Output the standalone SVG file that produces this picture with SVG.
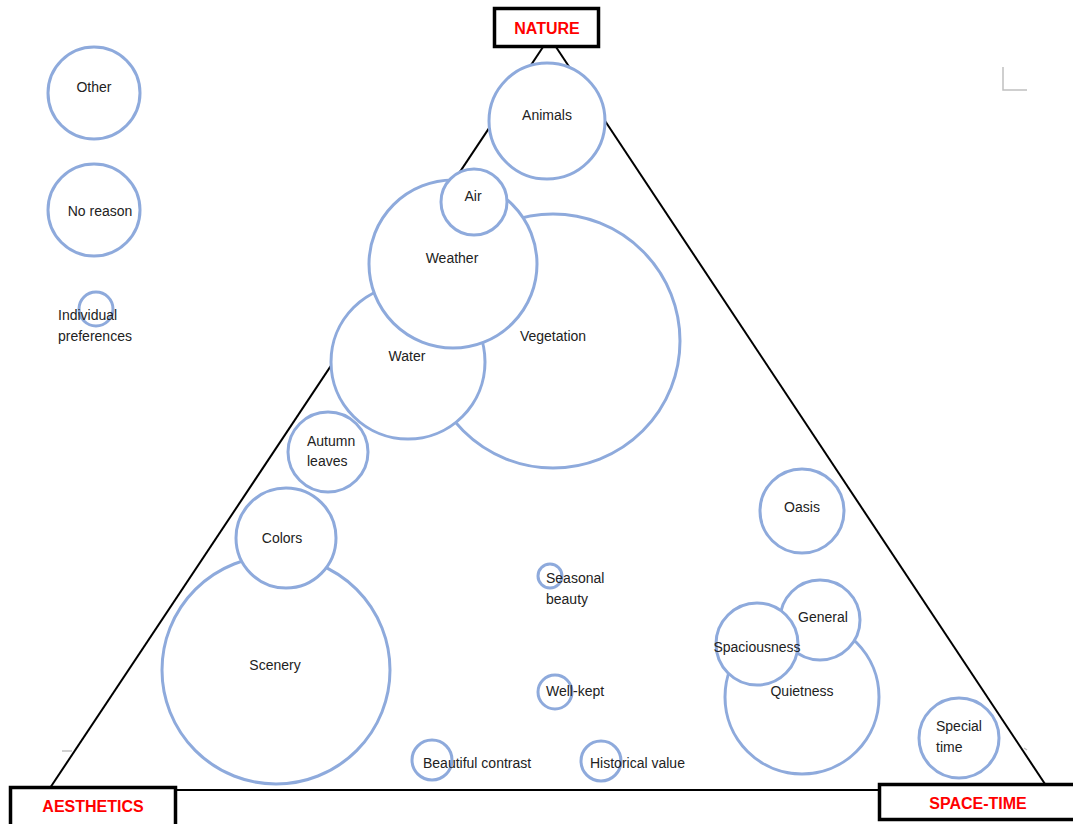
<svg xmlns="http://www.w3.org/2000/svg" width="1073" height="824" viewBox="0 0 1073 824">
<style>
.c{fill:#fff;stroke:#8eaadc;stroke-width:3}
.t{font-family:"Liberation Sans",Arial,sans-serif;font-size:14px;fill:#222}
.m{text-anchor:middle}
.box{fill:#fff;stroke:#000;stroke-width:3.5}
.bt{font-family:"Liberation Sans",Arial,sans-serif;font-size:16px;font-weight:bold;fill:#ff0000;text-anchor:middle}
.edge{stroke:#000;stroke-width:2;fill:none}
.g{stroke:#c0c0c0;stroke-width:1.5;fill:none}
</style>
<rect width="1073" height="824" fill="#fff"/>
<g id="connectors">
<line class="edge" x1="543" y1="47" x2="50" y2="788"/>
<line class="edge" x1="556" y1="47" x2="1045" y2="784"/>
<line class="edge" x1="176" y1="790" x2="879" y2="790"/>
<path class="g" d="M1003 67 V90 H1027"/>
<line class="g" x1="62" y1="751" x2="72" y2="751"/>
<line class="g" x1="1024" y1="748" x2="1027" y2="750"/>
</g>
<g id="other"><circle class="c" cx="94" cy="93" r="46"/><text class="t m" x="94" y="92">Other</text></g>
<g id="noreason"><circle class="c" cx="94" cy="210" r="46"/><text class="t m" x="100" y="216">No reason</text></g>
<g id="individual"><circle class="c" cx="96" cy="309" r="17"/><text class="t" x="58" y="320">Individual</text><text class="t" x="58" y="341">preferences</text></g>
<g id="animals"><circle class="c" cx="547" cy="121" r="58"/><text class="t m" x="547" y="120">Animals</text></g>
<g id="vegetation"><circle class="c" cx="553" cy="341" r="127"/><text class="t m" x="553" y="341">Vegetation</text></g>
<g id="water"><circle class="c" cx="408" cy="362" r="77"/><text class="t m" x="407" y="361">Water</text></g>
<g id="weather"><circle class="c" cx="453" cy="264" r="84"/><text class="t m" x="452" y="263">Weather</text></g>
<g id="air"><circle class="c" cx="474" cy="202" r="33"/><text class="t m" x="473" y="201">Air</text></g>
<g id="autumn"><circle class="c" cx="328" cy="452" r="40"/><text class="t" x="307" y="446">Autumn</text><text class="t" x="307" y="466">leaves</text></g>
<g id="scenery"><circle class="c" cx="276" cy="670" r="114"/><text class="t m" x="275" y="670">Scenery</text></g>
<g id="colors"><circle class="c" cx="286" cy="538" r="50"/><text class="t m" x="282" y="543">Colors</text></g>
<g id="oasis"><circle class="c" cx="802" cy="511" r="42"/><text class="t m" x="802" y="512">Oasis</text></g>
<g id="seasonal"><circle class="c" cx="550" cy="576" r="12"/><text class="t" x="546" y="583">Seasonal</text><text class="t" x="546" y="604">beauty</text></g>
<g id="quietness"><circle class="c" cx="802" cy="697" r="77"/><text class="t m" x="802" y="696">Quietness</text></g>
<g id="general"><circle class="c" cx="820" cy="620" r="40"/><text class="t m" x="823" y="622">General</text></g>
<g id="spaciousness"><circle class="c" cx="757" cy="644" r="41"/><text class="t m" x="757" y="652">Spaciousness</text></g>
<g id="wellkept"><circle class="c" cx="555" cy="692" r="17"/><text class="t" x="546" y="696">Well-kept</text></g>
<g id="contrast"><circle class="c" cx="432" cy="760" r="20"/><text class="t" x="423" y="768">Beautiful contrast</text></g>
<g id="historical"><circle class="c" cx="601" cy="761" r="20"/><text class="t" x="590" y="768">Historical value</text></g>
<g id="special"><circle class="c" cx="959" cy="738" r="40"/><text class="t" x="936" y="731">Special</text><text class="t" x="936" y="752">time</text></g>
<g id="nature"><rect class="box" x="494.5" y="8.5" width="104" height="38"/><text class="bt" x="547" y="34">NATURE</text></g>
<g id="aesthetics"><rect class="box" x="10.5" y="787.5" width="165" height="40"/><text class="bt" x="93" y="812">AESTHETICS</text></g>
<g id="spacetime"><rect class="box" x="879.5" y="784.5" width="196" height="35"/><text class="bt" x="978" y="809">SPACE-TIME</text></g>
</svg>
